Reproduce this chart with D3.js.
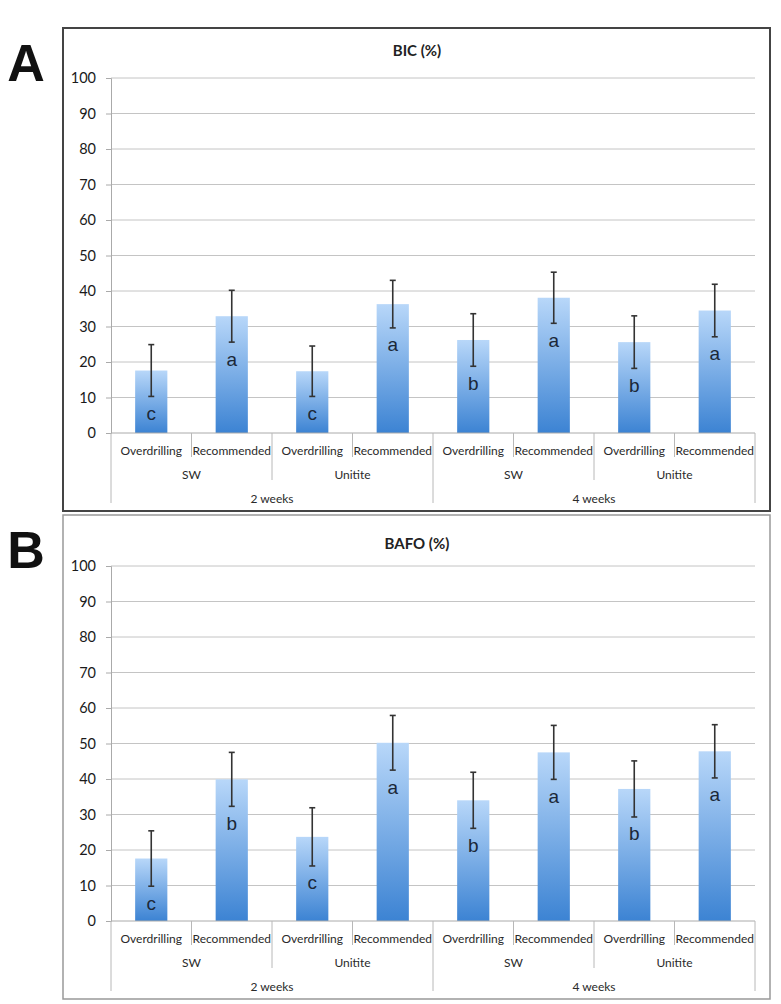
<!DOCTYPE html>
<html>
<head>
<meta charset="utf-8">
<script src="https://cdn.jsdelivr.net/npm/d3@7"></script>
<style>
  html, body { margin: 0; padding: 0; background: #fff; }
  svg { display: block; }
</style>
</head>
<body>
<svg id="chart" width="781" height="1004"></svg>
<script>
// ---------- DATA ----------
const categories = ["Overdrilling", "Recommended", "Overdrilling", "Recommended",
                    "Overdrilling", "Recommended", "Overdrilling", "Recommended"];
const materials = ["SW", "Unitite", "SW", "Unitite"];
const periods = ["2 weeks", "4 weeks"];
const yTicks = [0, 10, 20, 30, 40, 50, 60, 70, 80, 90, 100];

const bicMeans = [17.6, 32.9, 17.4, 36.3, 26.2, 38.1, 25.6, 34.5];
const bicSD    = [7.3, 7.3, 7.1, 6.7, 7.4, 7.2, 7.4, 7.4];
const bicLetters = ["c", "a", "c", "a", "b", "a", "b", "a"];

const bafoMeans = [17.6, 39.9, 23.7, 50.2, 34.0, 47.5, 37.2, 47.8];
const bafoSD    = [7.8, 7.6, 8.2, 7.7, 7.9, 7.6, 7.9, 7.5];
const bafoLetters = ["c", "b", "c", "a", "b", "a", "b", "a"];

// ---------- DRAW ----------
const svg = d3.select("#chart");
const defs = svg.append("defs");
const grad = defs.append("linearGradient")
  .attr("id", "barGrad").attr("x1", 0).attr("y1", 0).attr("x2", 0).attr("y2", 1);
grad.append("stop").attr("offset", "0%").attr("stop-color", "#b8d7f9");
grad.append("stop").attr("offset", "100%").attr("stop-color", "#3c83d3");

const plotLeft = 111, plotRight = 755;
const x = d3.scaleBand()
  .domain(d3.range(categories.length))
  .range([plotLeft, plotRight])
  .paddingInner(0.6)
  .paddingOuter(0.3);
const step = x.step();
const edge = i => plotLeft + i * step;

function drawPanel(top, boxH, axisTop, axisBottom, titleY, title, panelLabel, means, sds, letters, boxStroke, boxWidth) {
  const g = svg.append("g");
  const y = d3.scaleLinear().domain([0, 100]).range([axisBottom, axisTop]);

  // frame
  g.append("rect")
    .attr("x", 63).attr("y", top)
    .attr("width", 707).attr("height", boxH)
    .attr("fill", "none")
    .attr("stroke", boxStroke)
    .attr("stroke-width", boxWidth);

  // panel letter
  g.append("text")
    .attr("x", 26).attr("y", top + 53)
    .attr("text-anchor", "middle")
    .attr("font-family", "Liberation Sans, Arial, sans-serif")
    .attr("font-weight", "bold")
    .attr("font-size", 52)
    .attr("fill", "#111")
    .text(panelLabel);

  // title
  g.append("text")
    .attr("x", 417).attr("y", titleY)
    .attr("text-anchor", "middle")
    .attr("dominant-baseline", "central")
    .attr("font-family", "Lato, sans-serif")
    .attr("font-weight", "bold")
    .attr("font-size", 15)
    .attr("fill", "#222")
    .text(title);

  // gridlines
  g.append("g").selectAll("line").data(yTicks.filter(t => t > 0)).join("line")
    .attr("x1", plotLeft).attr("x2", plotRight)
    .attr("y1", d => y(d)).attr("y2", d => y(d))
    .attr("stroke", "#c4c4c4").attr("stroke-width", 1);

  // y axis
  const yAxis = d3.axisLeft(y).tickValues(yTicks).tickSize(5).tickPadding(10);
  const ya = g.append("g").attr("transform", `translate(${plotLeft},0)`).call(yAxis);
  ya.select(".domain").attr("stroke", "#aaa");
  ya.selectAll(".tick line").attr("stroke", "#aaa");
  ya.selectAll(".tick text")
    .attr("font-family", "Lato, sans-serif")
    .attr("font-size", 14.5)
    .attr("fill", "#1a1a1a");

  // bars
  g.append("g").selectAll("rect").data(means).join("rect")
    .attr("x", (d, i) => x(i))
    .attr("width", x.bandwidth())
    .attr("y", d => y(d))
    .attr("height", d => y(0) - y(d))
    .attr("fill", "url(#barGrad)");

  // error bars
  const eb = g.append("g").attr("stroke", "#333").attr("stroke-width", 1.6);
  means.forEach((m, i) => {
    const cx = x(i) + x.bandwidth() / 2;
    eb.append("line").attr("x1", cx).attr("x2", cx).attr("y1", y(m + sds[i])).attr("y2", y(m - sds[i]));
    eb.append("line").attr("x1", cx - 3).attr("x2", cx + 3).attr("y1", y(m + sds[i])).attr("y2", y(m + sds[i]));
    eb.append("line").attr("x1", cx - 3).attr("x2", cx + 3).attr("y1", y(m - sds[i])).attr("y2", y(m - sds[i]));
  });

  // significance letters
  g.append("g").selectAll("text").data(letters).join("text")
    .attr("x", (d, i) => x(i) + x.bandwidth() / 2)
    .attr("y", (d, i) => y(means[i] - sds[i]) + 17)
    .attr("text-anchor", "middle")
    .attr("dominant-baseline", "central")
    .attr("font-family", "Liberation Sans, Arial, sans-serif")
    .attr("font-size", 19)
    .attr("fill", "#1b2838")
    .text(d => d);

  // x axis baseline
  g.append("line")
    .attr("x1", plotLeft).attr("x2", plotRight)
    .attr("y1", y(0)).attr("y2", y(0))
    .attr("stroke", "#aaa");

  // separators
  const sep = g.append("g").attr("stroke", "#b8b8b8").attr("stroke-width", 1);
  for (let i = 0; i <= categories.length; i++) {
    let len = 24;
    if (i % 4 === 0) len = 70;
    else if (i % 2 === 0) len = 47;
    sep.append("line").attr("x1", edge(i)).attr("x2", edge(i))
      .attr("y1", y(0)).attr("y2", y(0) + len);
  }

  const labFont = "Lato, sans-serif";
  const labSize = 12;
  // level 1 labels
  g.append("g").selectAll("text").data(categories).join("text")
    .attr("x", (d, i) => x(i) + x.bandwidth() / 2)
    .attr("y", y(0) + 17)
    .attr("text-anchor", "middle").attr("dominant-baseline", "central")
    .attr("font-family", labFont).attr("font-size", labSize).attr("fill", "#2a2a2a")
    .text(d => d);
  // level 2 labels
  g.append("g").selectAll("text").data(materials).join("text")
    .attr("x", (d, i) => edge(i * 2) + step)
    .attr("y", y(0) + 41)
    .attr("text-anchor", "middle").attr("dominant-baseline", "central")
    .attr("font-family", labFont).attr("font-size", labSize).attr("fill", "#2a2a2a")
    .text(d => d);
  // level 3 labels
  g.append("g").selectAll("text").data(periods).join("text")
    .attr("x", (d, i) => edge(i * 4) + 2 * step)
    .attr("y", y(0) + 65)
    .attr("text-anchor", "middle").attr("dominant-baseline", "central")
    .attr("font-family", labFont).attr("font-size", labSize).attr("fill", "#2a2a2a")
    .text(d => d);
}

drawPanel(28, 483, 78, 433, 50, "BIC (%)", "A", bicMeans, bicSD, bicLetters, "#444", 2);
drawPanel(515, 484, 566, 921, 543, "BAFO (%)", "B", bafoMeans, bafoSD, bafoLetters, "#999", 1.5);
</script>
</body>
</html>
